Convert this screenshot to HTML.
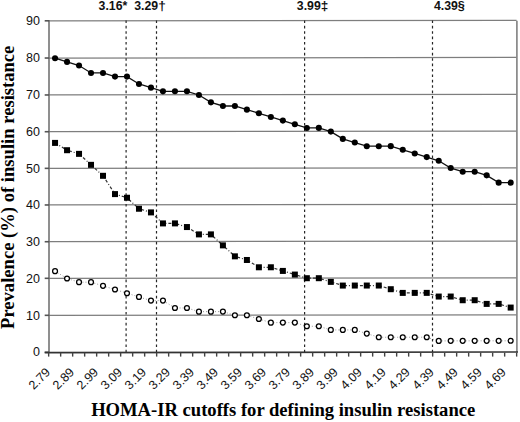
<!DOCTYPE html><html><head><meta charset="utf-8"><style>html,body{margin:0;padding:0;background:#fff;}svg{display:block;}</style></head><body>
<svg width="520" height="422" viewBox="0 0 520 422">
<rect width="520" height="422" fill="#fff"/>
<line x1="48.6" y1="315.32" x2="516.6" y2="314.76" stroke="#7e7e7e" stroke-width="1.25"/>
<line x1="48.6" y1="278.32" x2="516.6" y2="277.76" stroke="#7e7e7e" stroke-width="1.25"/>
<line x1="48.6" y1="241.72" x2="516.6" y2="241.16" stroke="#7e7e7e" stroke-width="1.25"/>
<line x1="48.6" y1="204.97" x2="516.6" y2="204.41" stroke="#7e7e7e" stroke-width="1.25"/>
<line x1="48.6" y1="168.35" x2="516.6" y2="167.79" stroke="#7e7e7e" stroke-width="1.25"/>
<line x1="48.6" y1="131.72" x2="516.6" y2="131.16" stroke="#7e7e7e" stroke-width="1.25"/>
<line x1="48.6" y1="94.97" x2="516.6" y2="94.41" stroke="#7e7e7e" stroke-width="1.25"/>
<line x1="48.6" y1="58.02" x2="516.6" y2="57.46" stroke="#7e7e7e" stroke-width="1.25"/>
<line x1="48.6" y1="20.82" x2="516.6" y2="20.26" stroke="#7e7e7e" stroke-width="1.25"/>
<line x1="516.9" y1="20.80" x2="516.9" y2="352.20" stroke="#808080" stroke-width="1.6"/>
<line x1="49" y1="20.00" x2="49" y2="353.00" stroke="#6a6a6a" stroke-width="1.5"/>
<line x1="44.7" y1="352.22" x2="49" y2="352.22" stroke="#555" stroke-width="1.6"/>
<text x="40" y="356.42" text-anchor="end" font-family="Liberation Sans" font-size="12.5" fill="#111">0</text>
<line x1="44.7" y1="315.32" x2="49" y2="315.32" stroke="#555" stroke-width="1.6"/>
<text x="40" y="319.52" text-anchor="end" font-family="Liberation Sans" font-size="12.5" fill="#111">10</text>
<line x1="44.7" y1="278.32" x2="49" y2="278.32" stroke="#555" stroke-width="1.6"/>
<text x="40" y="282.52" text-anchor="end" font-family="Liberation Sans" font-size="12.5" fill="#111">20</text>
<line x1="44.7" y1="241.72" x2="49" y2="241.72" stroke="#555" stroke-width="1.6"/>
<text x="40" y="245.92" text-anchor="end" font-family="Liberation Sans" font-size="12.5" fill="#111">30</text>
<line x1="44.7" y1="204.97" x2="49" y2="204.97" stroke="#555" stroke-width="1.6"/>
<text x="40" y="209.17" text-anchor="end" font-family="Liberation Sans" font-size="12.5" fill="#111">40</text>
<line x1="44.7" y1="168.35" x2="49" y2="168.35" stroke="#555" stroke-width="1.6"/>
<text x="40" y="172.55" text-anchor="end" font-family="Liberation Sans" font-size="12.5" fill="#111">50</text>
<line x1="44.7" y1="131.72" x2="49" y2="131.72" stroke="#555" stroke-width="1.6"/>
<text x="40" y="135.92" text-anchor="end" font-family="Liberation Sans" font-size="12.5" fill="#111">60</text>
<line x1="44.7" y1="94.97" x2="49" y2="94.97" stroke="#555" stroke-width="1.6"/>
<text x="40" y="99.17" text-anchor="end" font-family="Liberation Sans" font-size="12.5" fill="#111">70</text>
<line x1="44.7" y1="58.02" x2="49" y2="58.02" stroke="#555" stroke-width="1.6"/>
<text x="40" y="62.22" text-anchor="end" font-family="Liberation Sans" font-size="12.5" fill="#111">80</text>
<line x1="44.7" y1="20.82" x2="49" y2="20.82" stroke="#555" stroke-width="1.6"/>
<text x="40" y="25.02" text-anchor="end" font-family="Liberation Sans" font-size="12.5" fill="#111">90</text>
<line x1="44.7" y1="352.62" x2="518" y2="352.06" stroke="#333" stroke-width="1.6"/>
<line x1="48.65" y1="352.6" x2="48.65" y2="356.6" stroke="#444" stroke-width="1.4"/>
<line x1="60.65" y1="352.6" x2="60.65" y2="356.6" stroke="#444" stroke-width="1.4"/>
<line x1="72.65" y1="352.6" x2="72.65" y2="356.6" stroke="#444" stroke-width="1.4"/>
<line x1="84.65" y1="352.6" x2="84.65" y2="356.6" stroke="#444" stroke-width="1.4"/>
<line x1="96.65" y1="352.6" x2="96.65" y2="356.6" stroke="#444" stroke-width="1.4"/>
<line x1="108.65" y1="352.6" x2="108.65" y2="356.6" stroke="#444" stroke-width="1.4"/>
<line x1="120.65" y1="352.6" x2="120.65" y2="356.6" stroke="#444" stroke-width="1.4"/>
<line x1="132.65" y1="352.6" x2="132.65" y2="356.6" stroke="#444" stroke-width="1.4"/>
<line x1="144.65" y1="352.6" x2="144.65" y2="356.6" stroke="#444" stroke-width="1.4"/>
<line x1="156.65" y1="352.6" x2="156.65" y2="356.6" stroke="#444" stroke-width="1.4"/>
<line x1="168.65" y1="352.6" x2="168.65" y2="356.6" stroke="#444" stroke-width="1.4"/>
<line x1="180.65" y1="352.6" x2="180.65" y2="356.6" stroke="#444" stroke-width="1.4"/>
<line x1="192.65" y1="352.6" x2="192.65" y2="356.6" stroke="#444" stroke-width="1.4"/>
<line x1="204.65" y1="352.6" x2="204.65" y2="356.6" stroke="#444" stroke-width="1.4"/>
<line x1="216.65" y1="352.6" x2="216.65" y2="356.6" stroke="#444" stroke-width="1.4"/>
<line x1="228.65" y1="352.6" x2="228.65" y2="356.6" stroke="#444" stroke-width="1.4"/>
<line x1="240.65" y1="352.6" x2="240.65" y2="356.6" stroke="#444" stroke-width="1.4"/>
<line x1="252.65" y1="352.6" x2="252.65" y2="356.6" stroke="#444" stroke-width="1.4"/>
<line x1="264.65" y1="352.6" x2="264.65" y2="356.6" stroke="#444" stroke-width="1.4"/>
<line x1="276.65" y1="352.6" x2="276.65" y2="356.6" stroke="#444" stroke-width="1.4"/>
<line x1="288.65" y1="352.6" x2="288.65" y2="356.6" stroke="#444" stroke-width="1.4"/>
<line x1="300.65" y1="352.6" x2="300.65" y2="356.6" stroke="#444" stroke-width="1.4"/>
<line x1="312.65" y1="352.6" x2="312.65" y2="356.6" stroke="#444" stroke-width="1.4"/>
<line x1="324.65" y1="352.6" x2="324.65" y2="356.6" stroke="#444" stroke-width="1.4"/>
<line x1="336.65" y1="352.6" x2="336.65" y2="356.6" stroke="#444" stroke-width="1.4"/>
<line x1="348.65" y1="352.6" x2="348.65" y2="356.6" stroke="#444" stroke-width="1.4"/>
<line x1="360.65" y1="352.6" x2="360.65" y2="356.6" stroke="#444" stroke-width="1.4"/>
<line x1="372.65" y1="352.6" x2="372.65" y2="356.6" stroke="#444" stroke-width="1.4"/>
<line x1="384.65" y1="352.6" x2="384.65" y2="356.6" stroke="#444" stroke-width="1.4"/>
<line x1="396.65" y1="352.6" x2="396.65" y2="356.6" stroke="#444" stroke-width="1.4"/>
<line x1="408.65" y1="352.6" x2="408.65" y2="356.6" stroke="#444" stroke-width="1.4"/>
<line x1="420.65" y1="352.6" x2="420.65" y2="356.6" stroke="#444" stroke-width="1.4"/>
<line x1="432.65" y1="352.6" x2="432.65" y2="356.6" stroke="#444" stroke-width="1.4"/>
<line x1="444.65" y1="352.6" x2="444.65" y2="356.6" stroke="#444" stroke-width="1.4"/>
<line x1="456.65" y1="352.6" x2="456.65" y2="356.6" stroke="#444" stroke-width="1.4"/>
<line x1="468.65" y1="352.6" x2="468.65" y2="356.6" stroke="#444" stroke-width="1.4"/>
<line x1="480.65" y1="352.6" x2="480.65" y2="356.6" stroke="#444" stroke-width="1.4"/>
<line x1="492.65" y1="352.6" x2="492.65" y2="356.6" stroke="#444" stroke-width="1.4"/>
<line x1="504.65" y1="352.6" x2="504.65" y2="356.6" stroke="#444" stroke-width="1.4"/>
<line x1="516.65" y1="352.6" x2="516.65" y2="356.6" stroke="#444" stroke-width="1.4"/>
<text x="51.05" y="373.00" text-anchor="end" transform="rotate(-45 51.05 373.00)" font-family="Liberation Sans" font-size="12.5" fill="#111">2.79</text>
<text x="75.03" y="373.00" text-anchor="end" transform="rotate(-45 75.03 373.00)" font-family="Liberation Sans" font-size="12.5" fill="#111">2.89</text>
<text x="99.01" y="373.00" text-anchor="end" transform="rotate(-45 99.01 373.00)" font-family="Liberation Sans" font-size="12.5" fill="#111">2.99</text>
<text x="122.99" y="373.00" text-anchor="end" transform="rotate(-45 122.99 373.00)" font-family="Liberation Sans" font-size="12.5" fill="#111">3.09</text>
<text x="146.97" y="373.00" text-anchor="end" transform="rotate(-45 146.97 373.00)" font-family="Liberation Sans" font-size="12.5" fill="#111">3.19</text>
<text x="170.95" y="373.00" text-anchor="end" transform="rotate(-45 170.95 373.00)" font-family="Liberation Sans" font-size="12.5" fill="#111">3.29</text>
<text x="194.93" y="373.00" text-anchor="end" transform="rotate(-45 194.93 373.00)" font-family="Liberation Sans" font-size="12.5" fill="#111">3.39</text>
<text x="218.91" y="373.00" text-anchor="end" transform="rotate(-45 218.91 373.00)" font-family="Liberation Sans" font-size="12.5" fill="#111">3.49</text>
<text x="242.89" y="373.00" text-anchor="end" transform="rotate(-45 242.89 373.00)" font-family="Liberation Sans" font-size="12.5" fill="#111">3.59</text>
<text x="266.87" y="373.00" text-anchor="end" transform="rotate(-45 266.87 373.00)" font-family="Liberation Sans" font-size="12.5" fill="#111">3.69</text>
<text x="290.85" y="373.00" text-anchor="end" transform="rotate(-45 290.85 373.00)" font-family="Liberation Sans" font-size="12.5" fill="#111">3.79</text>
<text x="314.83" y="373.00" text-anchor="end" transform="rotate(-45 314.83 373.00)" font-family="Liberation Sans" font-size="12.5" fill="#111">3.89</text>
<text x="338.81" y="373.00" text-anchor="end" transform="rotate(-45 338.81 373.00)" font-family="Liberation Sans" font-size="12.5" fill="#111">3.99</text>
<text x="362.79" y="373.00" text-anchor="end" transform="rotate(-45 362.79 373.00)" font-family="Liberation Sans" font-size="12.5" fill="#111">4.09</text>
<text x="386.77" y="373.00" text-anchor="end" transform="rotate(-45 386.77 373.00)" font-family="Liberation Sans" font-size="12.5" fill="#111">4.19</text>
<text x="410.75" y="373.00" text-anchor="end" transform="rotate(-45 410.75 373.00)" font-family="Liberation Sans" font-size="12.5" fill="#111">4.29</text>
<text x="434.73" y="373.00" text-anchor="end" transform="rotate(-45 434.73 373.00)" font-family="Liberation Sans" font-size="12.5" fill="#111">4.39</text>
<text x="458.71" y="373.00" text-anchor="end" transform="rotate(-45 458.71 373.00)" font-family="Liberation Sans" font-size="12.5" fill="#111">4.49</text>
<text x="482.69" y="373.00" text-anchor="end" transform="rotate(-45 482.69 373.00)" font-family="Liberation Sans" font-size="12.5" fill="#111">4.59</text>
<text x="506.67" y="373.00" text-anchor="end" transform="rotate(-45 506.67 373.00)" font-family="Liberation Sans" font-size="12.5" fill="#111">4.69</text>
<line x1="126.1" y1="20.4" x2="126.1" y2="352" stroke="#262626" stroke-width="1.2" stroke-dasharray="2.6 2.8"/>
<line x1="156.5" y1="20.4" x2="156.5" y2="352" stroke="#262626" stroke-width="1.2" stroke-dasharray="2.6 2.8"/>
<line x1="304.6" y1="20.4" x2="304.6" y2="352" stroke="#262626" stroke-width="1.2" stroke-dasharray="2.6 2.8"/>
<line x1="432.5" y1="20.4" x2="432.5" y2="352" stroke="#262626" stroke-width="1.2" stroke-dasharray="2.6 2.8"/>
<text x="98.6" y="10.3" font-family="Liberation Sans" font-weight="bold" font-size="12.3" fill="#111">3.16<tspan font-size="12.3">*</tspan></text>
<text x="134.2" y="10.3" font-family="Liberation Sans" font-weight="bold" font-size="12.3" fill="#111">3.29<tspan font-size="13.6">†</tspan></text>
<text x="296.8" y="10.3" font-family="Liberation Sans" font-weight="bold" font-size="12.3" fill="#111">3.99<tspan font-size="13.6">‡</tspan></text>
<text x="433.9" y="10.3" font-family="Liberation Sans" font-weight="bold" font-size="12.3" fill="#111">4.39<tspan font-size="12.6">§</tspan></text>
<polyline points="55.05,271.19 67.04,278.50 79.03,282.18 91.02,282.17 103.01,285.85 115.00,289.54 126.99,293.23 138.98,296.91 150.97,300.60 162.96,300.58 174.95,307.97 186.94,307.95 198.93,311.64 210.92,311.63 222.91,311.61 234.90,315.30 246.89,315.28 258.88,318.96 270.87,322.63 282.86,322.62 294.85,322.61 306.84,326.28 318.83,326.27 330.82,329.94 342.81,329.93 354.80,329.91 366.79,333.59 378.78,337.27 390.77,337.25 402.76,337.24 414.75,337.22 426.74,337.21 438.73,340.89 450.72,340.87 462.71,340.86 474.70,340.84 486.69,340.83 498.68,340.81 510.67,340.80" fill="none" stroke="#999" stroke-width="1" stroke-dasharray="1 2"/>
<polyline points="55.05,142.90 67.04,150.21 79.03,153.86 91.02,164.84 103.01,175.81 115.00,194.10 126.99,197.75 138.98,208.74 150.97,212.40 162.96,223.41 174.95,223.39 186.94,227.05 198.93,234.39 210.92,234.38 222.91,245.37 234.90,256.34 246.89,259.98 258.88,267.29 270.87,267.27 282.86,270.92 294.85,274.57 306.84,278.21 318.83,278.20 330.82,281.88 342.81,285.57 354.80,285.55 366.79,285.54 378.78,285.53 390.77,289.21 402.76,292.90 414.75,292.88 426.74,292.87 438.73,296.56 450.72,296.54 462.71,300.23 474.70,300.21 486.69,303.90 498.68,303.88 510.67,307.57" fill="none" stroke="#333" stroke-width="1.2" stroke-dasharray="3 2 1 2"/>
<polyline points="55.05,58.21 67.04,61.89 79.03,65.57 91.02,72.95 103.01,72.93 115.00,76.62 126.99,76.60 138.98,83.98 150.97,87.66 162.96,91.34 174.95,91.32 186.94,91.31 198.93,94.99 210.92,102.33 222.91,105.99 234.90,105.97 246.89,109.63 258.88,113.29 270.87,116.95 282.86,120.62 294.85,124.28 306.84,127.94 318.83,127.92 330.82,131.58 342.81,138.90 354.80,142.54 366.79,146.19 378.78,146.18 390.77,146.16 402.76,149.81 414.75,153.46 426.74,157.11 438.73,160.76 450.72,168.07 462.71,171.72 474.70,171.70 486.69,175.35 498.68,182.66 510.67,182.65" fill="none" stroke="#111" stroke-width="1.3"/>
<circle cx="55.05" cy="58.21" r="3.05" fill="#000"/>
<circle cx="67.04" cy="61.89" r="3.05" fill="#000"/>
<circle cx="79.03" cy="65.57" r="3.05" fill="#000"/>
<circle cx="91.02" cy="72.95" r="3.05" fill="#000"/>
<circle cx="103.01" cy="72.93" r="3.05" fill="#000"/>
<circle cx="115.00" cy="76.62" r="3.05" fill="#000"/>
<circle cx="126.99" cy="76.60" r="3.05" fill="#000"/>
<circle cx="138.98" cy="83.98" r="3.05" fill="#000"/>
<circle cx="150.97" cy="87.66" r="3.05" fill="#000"/>
<circle cx="162.96" cy="91.34" r="3.05" fill="#000"/>
<circle cx="174.95" cy="91.32" r="3.05" fill="#000"/>
<circle cx="186.94" cy="91.31" r="3.05" fill="#000"/>
<circle cx="198.93" cy="94.99" r="3.05" fill="#000"/>
<circle cx="210.92" cy="102.33" r="3.05" fill="#000"/>
<circle cx="222.91" cy="105.99" r="3.05" fill="#000"/>
<circle cx="234.90" cy="105.97" r="3.05" fill="#000"/>
<circle cx="246.89" cy="109.63" r="3.05" fill="#000"/>
<circle cx="258.88" cy="113.29" r="3.05" fill="#000"/>
<circle cx="270.87" cy="116.95" r="3.05" fill="#000"/>
<circle cx="282.86" cy="120.62" r="3.05" fill="#000"/>
<circle cx="294.85" cy="124.28" r="3.05" fill="#000"/>
<circle cx="306.84" cy="127.94" r="3.05" fill="#000"/>
<circle cx="318.83" cy="127.92" r="3.05" fill="#000"/>
<circle cx="330.82" cy="131.58" r="3.05" fill="#000"/>
<circle cx="342.81" cy="138.90" r="3.05" fill="#000"/>
<circle cx="354.80" cy="142.54" r="3.05" fill="#000"/>
<circle cx="366.79" cy="146.19" r="3.05" fill="#000"/>
<circle cx="378.78" cy="146.18" r="3.05" fill="#000"/>
<circle cx="390.77" cy="146.16" r="3.05" fill="#000"/>
<circle cx="402.76" cy="149.81" r="3.05" fill="#000"/>
<circle cx="414.75" cy="153.46" r="3.05" fill="#000"/>
<circle cx="426.74" cy="157.11" r="3.05" fill="#000"/>
<circle cx="438.73" cy="160.76" r="3.05" fill="#000"/>
<circle cx="450.72" cy="168.07" r="3.05" fill="#000"/>
<circle cx="462.71" cy="171.72" r="3.05" fill="#000"/>
<circle cx="474.70" cy="171.70" r="3.05" fill="#000"/>
<circle cx="486.69" cy="175.35" r="3.05" fill="#000"/>
<circle cx="498.68" cy="182.66" r="3.05" fill="#000"/>
<circle cx="510.67" cy="182.65" r="3.05" fill="#000"/>
<rect x="52.05" y="139.90" width="6" height="6" fill="#000"/>
<rect x="64.04" y="147.21" width="6" height="6" fill="#000"/>
<rect x="76.03" y="150.86" width="6" height="6" fill="#000"/>
<rect x="88.02" y="161.84" width="6" height="6" fill="#000"/>
<rect x="100.01" y="172.81" width="6" height="6" fill="#000"/>
<rect x="112.00" y="191.10" width="6" height="6" fill="#000"/>
<rect x="123.99" y="194.75" width="6" height="6" fill="#000"/>
<rect x="135.98" y="205.74" width="6" height="6" fill="#000"/>
<rect x="147.97" y="209.40" width="6" height="6" fill="#000"/>
<rect x="159.96" y="220.41" width="6" height="6" fill="#000"/>
<rect x="171.95" y="220.39" width="6" height="6" fill="#000"/>
<rect x="183.94" y="224.05" width="6" height="6" fill="#000"/>
<rect x="195.93" y="231.39" width="6" height="6" fill="#000"/>
<rect x="207.92" y="231.38" width="6" height="6" fill="#000"/>
<rect x="219.91" y="242.37" width="6" height="6" fill="#000"/>
<rect x="231.90" y="253.34" width="6" height="6" fill="#000"/>
<rect x="243.89" y="256.98" width="6" height="6" fill="#000"/>
<rect x="255.88" y="264.29" width="6" height="6" fill="#000"/>
<rect x="267.87" y="264.27" width="6" height="6" fill="#000"/>
<rect x="279.86" y="267.92" width="6" height="6" fill="#000"/>
<rect x="291.85" y="271.57" width="6" height="6" fill="#000"/>
<rect x="303.84" y="275.21" width="6" height="6" fill="#000"/>
<rect x="315.83" y="275.20" width="6" height="6" fill="#000"/>
<rect x="327.82" y="278.88" width="6" height="6" fill="#000"/>
<rect x="339.81" y="282.57" width="6" height="6" fill="#000"/>
<rect x="351.80" y="282.55" width="6" height="6" fill="#000"/>
<rect x="363.79" y="282.54" width="6" height="6" fill="#000"/>
<rect x="375.78" y="282.53" width="6" height="6" fill="#000"/>
<rect x="387.77" y="286.21" width="6" height="6" fill="#000"/>
<rect x="399.76" y="289.90" width="6" height="6" fill="#000"/>
<rect x="411.75" y="289.88" width="6" height="6" fill="#000"/>
<rect x="423.74" y="289.87" width="6" height="6" fill="#000"/>
<rect x="435.73" y="293.56" width="6" height="6" fill="#000"/>
<rect x="447.72" y="293.54" width="6" height="6" fill="#000"/>
<rect x="459.71" y="297.23" width="6" height="6" fill="#000"/>
<rect x="471.70" y="297.21" width="6" height="6" fill="#000"/>
<rect x="483.69" y="300.90" width="6" height="6" fill="#000"/>
<rect x="495.68" y="300.88" width="6" height="6" fill="#000"/>
<rect x="507.67" y="304.57" width="6" height="6" fill="#000"/>
<circle cx="55.05" cy="271.19" r="2.45" fill="#fff" stroke="#000" stroke-width="1.25"/>
<circle cx="67.04" cy="278.50" r="2.45" fill="#fff" stroke="#000" stroke-width="1.25"/>
<circle cx="79.03" cy="282.18" r="2.45" fill="#fff" stroke="#000" stroke-width="1.25"/>
<circle cx="91.02" cy="282.17" r="2.45" fill="#fff" stroke="#000" stroke-width="1.25"/>
<circle cx="103.01" cy="285.85" r="2.45" fill="#fff" stroke="#000" stroke-width="1.25"/>
<circle cx="115.00" cy="289.54" r="2.45" fill="#fff" stroke="#000" stroke-width="1.25"/>
<circle cx="126.99" cy="293.23" r="2.45" fill="#fff" stroke="#000" stroke-width="1.25"/>
<circle cx="138.98" cy="296.91" r="2.45" fill="#fff" stroke="#000" stroke-width="1.25"/>
<circle cx="150.97" cy="300.60" r="2.45" fill="#fff" stroke="#000" stroke-width="1.25"/>
<circle cx="162.96" cy="300.58" r="2.45" fill="#fff" stroke="#000" stroke-width="1.25"/>
<circle cx="174.95" cy="307.97" r="2.45" fill="#fff" stroke="#000" stroke-width="1.25"/>
<circle cx="186.94" cy="307.95" r="2.45" fill="#fff" stroke="#000" stroke-width="1.25"/>
<circle cx="198.93" cy="311.64" r="2.45" fill="#fff" stroke="#000" stroke-width="1.25"/>
<circle cx="210.92" cy="311.63" r="2.45" fill="#fff" stroke="#000" stroke-width="1.25"/>
<circle cx="222.91" cy="311.61" r="2.45" fill="#fff" stroke="#000" stroke-width="1.25"/>
<circle cx="234.90" cy="315.30" r="2.45" fill="#fff" stroke="#000" stroke-width="1.25"/>
<circle cx="246.89" cy="315.28" r="2.45" fill="#fff" stroke="#000" stroke-width="1.25"/>
<circle cx="258.88" cy="318.96" r="2.45" fill="#fff" stroke="#000" stroke-width="1.25"/>
<circle cx="270.87" cy="322.63" r="2.45" fill="#fff" stroke="#000" stroke-width="1.25"/>
<circle cx="282.86" cy="322.62" r="2.45" fill="#fff" stroke="#000" stroke-width="1.25"/>
<circle cx="294.85" cy="322.61" r="2.45" fill="#fff" stroke="#000" stroke-width="1.25"/>
<circle cx="306.84" cy="326.28" r="2.45" fill="#fff" stroke="#000" stroke-width="1.25"/>
<circle cx="318.83" cy="326.27" r="2.45" fill="#fff" stroke="#000" stroke-width="1.25"/>
<circle cx="330.82" cy="329.94" r="2.45" fill="#fff" stroke="#000" stroke-width="1.25"/>
<circle cx="342.81" cy="329.93" r="2.45" fill="#fff" stroke="#000" stroke-width="1.25"/>
<circle cx="354.80" cy="329.91" r="2.45" fill="#fff" stroke="#000" stroke-width="1.25"/>
<circle cx="366.79" cy="333.59" r="2.45" fill="#fff" stroke="#000" stroke-width="1.25"/>
<circle cx="378.78" cy="337.27" r="2.45" fill="#fff" stroke="#000" stroke-width="1.25"/>
<circle cx="390.77" cy="337.25" r="2.45" fill="#fff" stroke="#000" stroke-width="1.25"/>
<circle cx="402.76" cy="337.24" r="2.45" fill="#fff" stroke="#000" stroke-width="1.25"/>
<circle cx="414.75" cy="337.22" r="2.45" fill="#fff" stroke="#000" stroke-width="1.25"/>
<circle cx="426.74" cy="337.21" r="2.45" fill="#fff" stroke="#000" stroke-width="1.25"/>
<circle cx="438.73" cy="340.89" r="2.45" fill="#fff" stroke="#000" stroke-width="1.25"/>
<circle cx="450.72" cy="340.87" r="2.45" fill="#fff" stroke="#000" stroke-width="1.25"/>
<circle cx="462.71" cy="340.86" r="2.45" fill="#fff" stroke="#000" stroke-width="1.25"/>
<circle cx="474.70" cy="340.84" r="2.45" fill="#fff" stroke="#000" stroke-width="1.25"/>
<circle cx="486.69" cy="340.83" r="2.45" fill="#fff" stroke="#000" stroke-width="1.25"/>
<circle cx="498.68" cy="340.81" r="2.45" fill="#fff" stroke="#000" stroke-width="1.25"/>
<circle cx="510.67" cy="340.80" r="2.45" fill="#fff" stroke="#000" stroke-width="1.25"/>
<text x="283.2" y="415.6" text-anchor="middle" font-family="Liberation Serif" font-weight="bold" font-size="18.6" fill="#000">HOMA-IR cutoffs for defining insulin resistance</text>
<text x="0" y="0" text-anchor="middle" transform="translate(13.8 187.3) rotate(-90)" font-family="Liberation Serif" font-weight="bold" font-size="18.6" fill="#000">Prevalence (%) of insulin resistance</text>
</svg></body></html>
